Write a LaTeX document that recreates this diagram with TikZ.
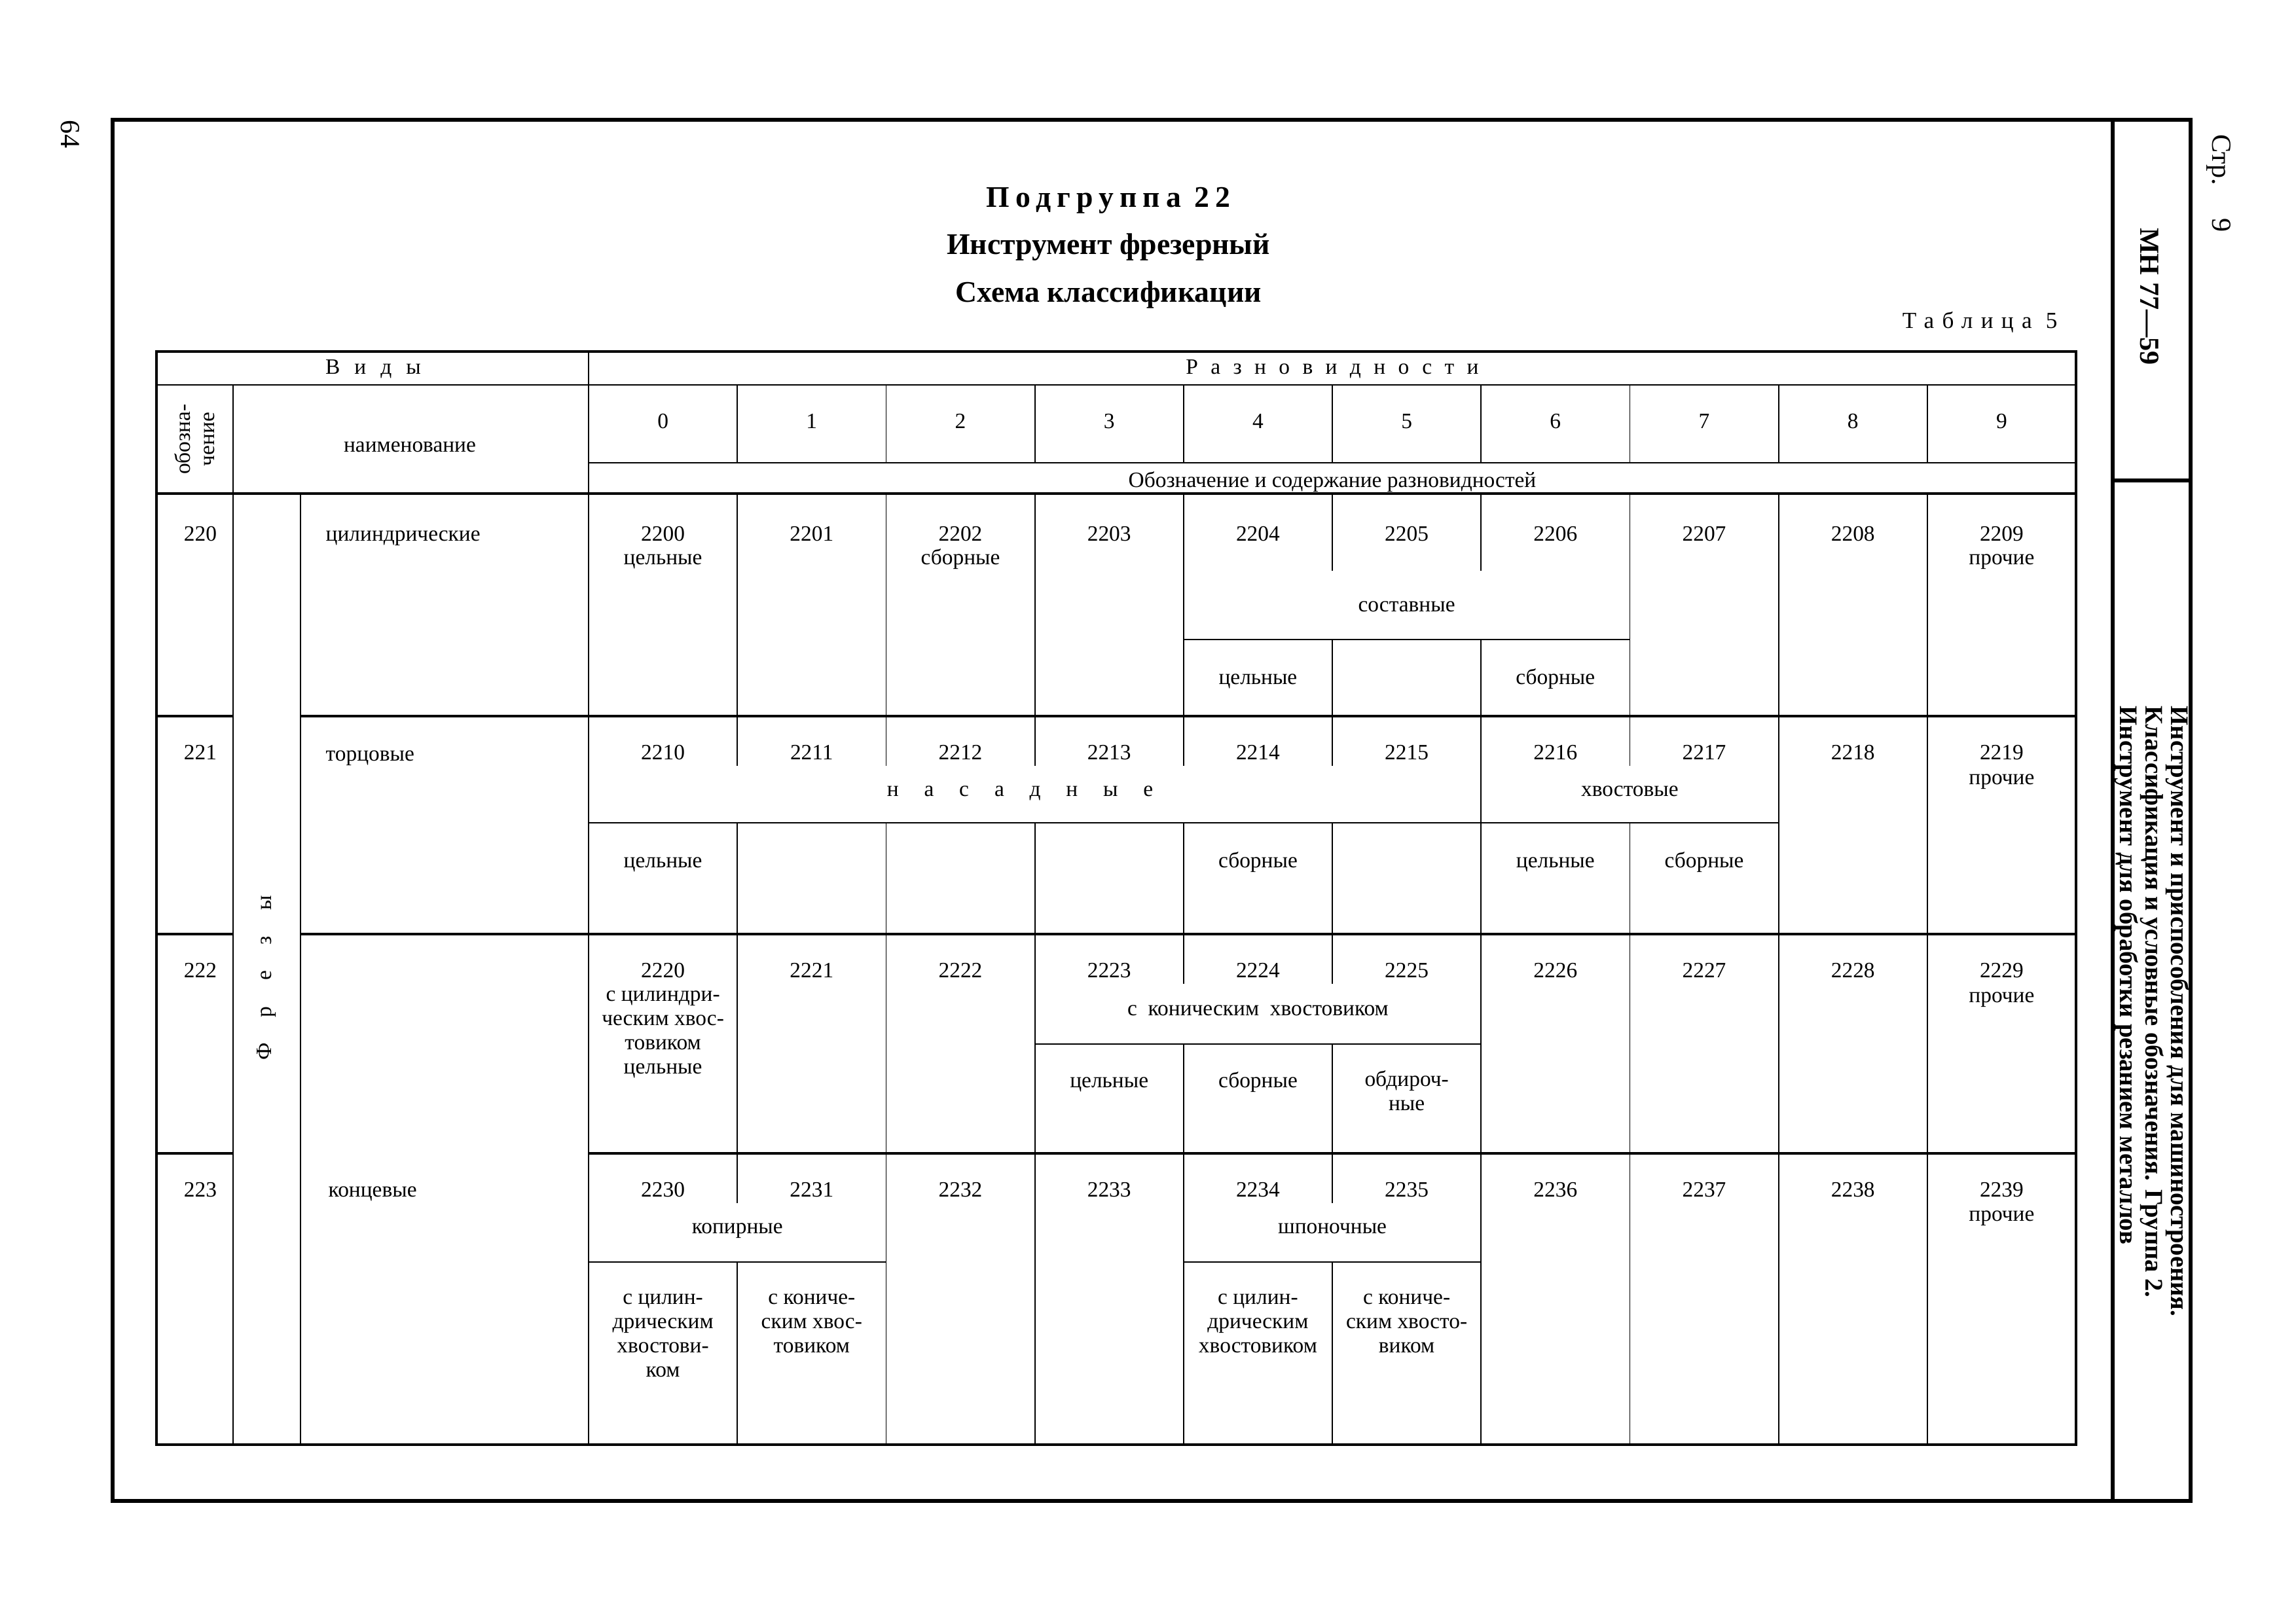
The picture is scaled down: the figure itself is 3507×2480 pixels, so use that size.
\documentclass[tikz,border=0pt]{standalone}
\usepackage{fontspec}
\setmainfont{Liberation Serif}
\usetikzlibrary{positioning}

\newcommand\cellfont{\fontsize{9.5}{10.5}\selectfont}
\newcommand\razr[2]{{\addfontfeatures{LetterSpace=#1}#2}}
\newcommand\X[1]{{899+227.2*#1}}
\newcommand\C[1]{{1012.6+227.2*#1}}

\tikzset{
	frame/.style={line width=1.6pt},
	heavy/.style={line width=1.3pt},
	mid/.style={line width=0.8pt},
	rule/.style={line width=0.5pt},
	cell/.style={inner sep=0pt, font=\cellfont, text height=1.6ex, text depth=.3ex},
	multi/.style={inner sep=0pt, font=\cellfont, align=center, anchor=base},
	title/.style={inner sep=0pt, font=\fontsize{13}{15}\selectfont\bfseries},
	side/.style={inner sep=0pt, rotate=-90, font=\fontsize{12}{13}\selectfont},
}

\begin{document}
\begin{tikzpicture}[x=0.01cm,y=-0.01cm]
	\useasboundingbox (0,0) rectangle (3507,2480);
	\draw[frame] (172,183) rectangle (3346,2293);
	\draw[frame] (3227,183) -- (3227,2293) (3227,734) -- (3346,734);

	\node[side] (page) at (107,205) {64};
	\node[side] (str) at (3389,280) {Стр.\hspace{1.2em}9};
	\node[side, font=\fontsize{12}{13}\selectfont\bfseries] (mn) at (3283,453) {МН 77—59};
	\node[side, anchor=west, align=left, font=\fontsize{11}{11}\selectfont\bfseries] (series) at (3287,1078)
		{Инструмент и приспособления для машиностроения.\\
		 Классификация и условные обозначения. Группа 2.\\
		 Инструмент для обработки резанием металлов};

	\node[title] (podgr) at (1693,306) {\razr{20}{Подгруппа 22}};
	\node[title] (instr) at (1693,378) {Инструмент фрезерный};
	\node[title] (schema) at (1693,450) {Схема классификации};
	\node[inner sep=0pt, font=\fontsize{10}{12}\selectfont] (tabl) at (3024,492) {\razr{35}{Таблица 5}};

	% table grid
	\draw[heavy] (239,537) rectangle (3171,2207);
	\draw[rule] (239,588) -- (3171,588);
	\draw[heavy] (239,754) -- (3171,754);
	\draw[mid] (899,537) -- (899,2207);
	\draw[rule] (356,588) -- (356,2207) (459,754) -- (459,2207);
	\draw[rule] (\X{0},707) -- (\X{10},707);
	\foreach \i in {1,...,9} \draw[rule] (\X{\i},588) -- (\X{\i},707);
	\foreach \y in {1094,1427,1762} \draw[heavy] (239,\y) -- (356,\y) (\X{0},\y) -- (\X{10},\y);
	\foreach \y in {1094,1427} \draw[heavy] (459,\y) -- (\X{0},\y);

	\foreach \i in {1,2,3,4,7,8,9} \draw[rule] (\X{\i},754) -- (\X{\i},1094);
	\foreach \i in {6,8,9} \draw[rule] (\X{\i},1094) -- (\X{\i},1427);
	\foreach \i in {1,2,3,6,7,8,9} \draw[rule] (\X{\i},1427) -- (\X{\i},1762);
	\foreach \i in {2,3,4,6,7,8,9} \draw[rule] (\X{\i},1762) -- (\X{\i},2207);
	\foreach \i/\a/\b in {5/754/872, 5/977/1094, 6/754/872, 6/977/1094,
		1/1094/1170, 2/1094/1170, 3/1094/1170, 4/1094/1170, 5/1094/1170, 7/1094/1170,
		1/1257/1427, 2/1257/1427, 3/1257/1427, 4/1257/1427, 5/1257/1427, 7/1257/1427,
		4/1427/1503, 5/1427/1503, 4/1595/1762, 5/1595/1762,
		1/1762/1838, 5/1762/1838, 1/1928/2207, 5/1928/2207}
		\draw[rule] (\X{\i},\a) -- (\X{\i},\b);
	\draw[rule] (\X{4},977) -- (\X{7},977);
	\draw[rule] (\X{0},1257) -- (\X{8},1257);
	\draw[rule] (\X{3},1595) -- (\X{6},1595);
	\draw[rule] (\X{0},1928) -- (\X{2},1928) (\X{4},1928) -- (\X{6},1928);

	% header
	\node[cell] (vidy) at (570,561) {\razr{66}{Виды}};
	\node[cell] (razn) at (2035,561) {\razr{58}{Разновидности}};
	\node[inner sep=0pt, font=\cellfont, rotate=90, align=center] (obozn) at (297,671) {обозна-\\чение};
	\node[cell] (naim) at (626,680) {наименование};
	\foreach \i in {0,...,9} \node[cell] (d\i) at (\C{\i},644) {\i};
	\node[cell] (soder) at (\X{5},734) {Обозначение и содержание разновидностей};

	% kinds
	\node[cell] (k220) at (306,816) {220};
	\node[cell] (k221) at (306,1150) {221};
	\node[cell] (k222) at (306,1483) {222};
	\node[cell] (k223) at (306,1818) {223};
	\node[inner sep=0pt, font=\cellfont, rotate=90] (frezy) at (407,1494) {\razr{118}{Фрезы}};
	\node[cell, anchor=west] (cil) at (497,816) {цилиндрические};
	\node[cell, anchor=west] (torc) at (497,1152) {торцовые};
	\node[cell, anchor=west] (konc) at (501,1818) {концевые};

	% varieties
	\foreach \r/\y in {0/816, 1/1150, 2/1483, 3/1818}
		\foreach \i in {0,...,9} \node[cell] (v22\r\i) at (\C{\i},\y) {22\r\i};
	\node[cell] (t2200) at (\C{0},852) {цельные};
	\node[cell] (t2202) at (\C{2},852) {сборные};
	\node[cell] (t2209) at (\C{9},852) {прочие};
	\node[cell] (sost) at (\C{5},924) {составные};
	\node[cell] (t2204) at (\C{4},1035) {цельные};
	\node[cell] (t2206) at (\C{6},1035) {сборные};

	\node[cell] (t2219) at (\C{9},1188) {прочие};
	\node[cell] (nasad) at (1558,1206) {\razr{116}{насадные}};
	\node[cell] (hvost) at (\X{7},1206) {хвостовые};
	\node[cell] (t2210) at (\C{0},1315) {цельные};
	\node[cell] (t2214) at (\C{4},1315) {сборные};
	\node[cell] (t2216) at (\C{6},1315) {цельные};
	\node[cell] (t2217) at (\C{7},1315) {сборные};

	\node[multi] (t2220) at (\C{0},1640) {с цилиндри-\\ческим хвос-\\товиком\\цельные};
	\node[cell] (t2229) at (\C{9},1521) {прочие};
	\node[cell] (konhv) at (\C{4},1541) {с\ \ коническим\ \ хвостовиком};
	\node[cell] (t2223) at (\C{3},1651) {цельные};
	\node[cell] (t2224) at (\C{4},1651) {сборные};
	\node[multi] (t2225) at (\C{5},1696) {обдироч-\\ные};

	\node[cell] (t2239) at (\C{9},1855) {прочие};
	\node[cell] (kopir) at (\X{1},1874) {копирные};
	\node[cell] (shpon) at (\X{5},1874) {шпоночные};
	\node[multi] (t2230) at (\C{0},2103) {с цилин-\\дрическим\\хвостови-\\ком};
	\node[multi] (t2231) at (\C{1},2066) {с кониче-\\ским хвос-\\товиком};
	\node[multi] (t2234) at (\C{4},2066) {с цилин-\\дрическим\\хвостовиком};
	\node[multi] (t2235) at (\C{5},2066) {с кониче-\\ским хвосто-\\виком};
\end{tikzpicture}
\end{document}
